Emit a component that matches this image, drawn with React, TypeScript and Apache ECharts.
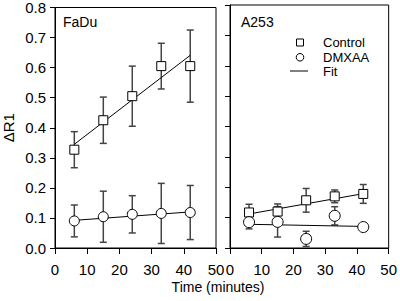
import React, { useEffect, useRef } from "react";
import * as echarts from "echarts";

const times = [6, 15, 24, 33, 42];
const fitX = [6, 42];

const faduControl = [0.327, 0.425, 0.505, 0.605, 0.605];
const faduControlErr = [0.06, 0.077, 0.1, 0.076, 0.12];
const faduDmxaa = [0.09, 0.104, 0.112, 0.115, 0.118];
const faduDmxaaErr = [0.053, 0.085, 0.062, 0.1, 0.09];
const faduControlFit = [0.345, 0.641];
const faduDmxaaFit = [0.092, 0.12];

const a253Control = [0.117, 0.12, 0.157, 0.17, 0.178];
const a253ControlErr = [0.027, 0.025, 0.039, 0.021, 0.031];
const a253Dmxaa = [0.085, 0.086, 0.03, 0.106, 0.069];
const a253DmxaaErr = [0.022, 0.05, 0.025, 0.03, 0.0];
const a253ControlFit = [0.112, 0.179];
const a253DmxaaFit = [0.078, 0.071];

const yTicks = [0, 0.1, 0.2, 0.3, 0.4, 0.5, 0.6, 0.7, 0.8];
const xTicks = [0, 10, 20, 30, 40, 50];
const panelNames = ["FaDu", "A253"];
const legendNames = ["Control", "DMXAA", "Fit"];
const xAxisTitle = "Time (minutes)";
const yAxisTitle = "ΔR1";

const FONT = "Liberation Sans, Arial, sans-serif";

function pts(xs: number[], ys: number[]) {
  return xs.map((x, i) => [x, ys[i]]);
}
function errPts(xs: number[], ys: number[], es: number[]) {
  return xs.map((x, i) => [x, ys[i], es[i]]);
}

function errorSeries(idx: number, data: number[][]) {
  return {
    type: "custom",
    xAxisIndex: idx,
    yAxisIndex: idx,
    z: 1,
    silent: true,
    data,
    renderItem: (params: any, api: any) => {
      const x = api.value(0);
      const y = api.value(1);
      const e = api.value(2);
      if (!e) return null;
      const top = api.coord([x, y + e]);
      const bot = api.coord([x, y - e]);
      const w = 3.5;
      const st = { stroke: "#444", lineWidth: 1.5 };
      return {
        type: "group",
        children: [
          { type: "line", shape: { x1: top[0], y1: top[1], x2: bot[0], y2: bot[1] }, style: st },
          { type: "line", shape: { x1: top[0] - w, y1: top[1], x2: top[0] + w, y2: top[1] }, style: st },
          { type: "line", shape: { x1: bot[0] - w, y1: bot[1], x2: bot[0] + w, y2: bot[1] }, style: st },
        ],
      };
    },
  };
}

function scatter(idx: number, name: string, symbol: string, size: number, data: number[][]) {
  return {
    type: "scatter",
    name,
    xAxisIndex: idx,
    yAxisIndex: idx,
    z: 3,
    symbol,
    symbolSize: size,
    itemStyle: { color: "#fff", borderColor: "#000", borderWidth: 1, opacity: 1 },
    data,
  };
}

function fit(idx: number, data: number[][]) {
  return {
    type: "line",
    name: "Fit",
    xAxisIndex: idx,
    yAxisIndex: idx,
    z: 2,
    symbol: "none",
    lineStyle: { color: "#000", width: 1 },
    data,
  };
}

export default function App() {
  const ref = useRef<HTMLDivElement>(null);
  useEffect(() => {
    if (!ref.current) return;
    const chart = echarts.init(ref.current, null, { renderer: "svg" });
    const axisLabelStyle = { color: "#000", fontSize: 15, fontFamily: FONT };
    const xAxisBase = (idx: number) => ({
      type: "value",
      gridIndex: idx,
      min: 0,
      max: 50,
      interval: 10,
      axisLine: { lineStyle: { color: "#000", width: 1 } },
      axisTick: { length: 6, lineStyle: { color: "#000" } },
      axisLabel: { ...axisLabelStyle, margin: 14, showMaxLabel: true, showMinLabel: true },
      splitLine: { show: false },
    });
    const yAxisBase = (idx: number, labels: boolean) => ({
      type: "value",
      gridIndex: idx,
      min: 0,
      max: 0.8,
      interval: 0.1,
      axisLine: { show: true, lineStyle: { color: "#000", width: 1 } },
      axisTick: { show: true, length: 5, lineStyle: { color: "#000" } },
      axisLabel: {
        show: labels,
        ...axisLabelStyle,
        margin: 9,
        formatter: (v: number) => v.toFixed(1),
      },
      splitLine: { show: false },
    });
    const option: any = {
      animation: false,
      grid: [
        { left: 53, right: 184, top: 5, bottom: 53, show: true, borderColor: "#000", borderWidth: 1, backgroundColor: "transparent" },
        { left: 230, right: 8, top: 5, bottom: 53, show: true, borderColor: "#000", borderWidth: 1, backgroundColor: "transparent" },
      ],
      xAxis: [xAxisBase(0), xAxisBase(1)],
      yAxis: [
        {
          ...yAxisBase(0, true),
          name: yAxisTitle,
          nameLocation: "middle",
          nameGap: 39,
          nameTextStyle: { color: "#000", fontSize: 15, fontFamily: FONT },
        },
        yAxisBase(1, false),
      ],
      series: [
        errorSeries(0, errPts(times, faduControl, faduControlErr)),
        errorSeries(0, errPts(times, faduDmxaa, faduDmxaaErr)),
        fit(0, pts(fitX, faduControlFit)),
        fit(0, pts(fitX, faduDmxaaFit)),
        scatter(0, "Control", "rect", 9, pts(times, faduControl)),
        scatter(0, "DMXAA", "circle", 10, pts(times, faduDmxaa)),
        errorSeries(1, errPts(times, a253Control, a253ControlErr)),
        errorSeries(1, errPts(times, a253Dmxaa, a253DmxaaErr)),
        fit(1, pts(fitX, a253ControlFit)),
        fit(1, pts(fitX, a253DmxaaFit)),
        scatter(1, "Control", "rect", 9, pts(times, a253Control)),
        scatter(1, "DMXAA", "circle", 11, pts(times, a253Dmxaa)),
      ],
      graphic: [
        { type: "text", x: 63, y: 22, style: { text: panelNames[0], fill: "#000", font: `14px ${FONT}`, verticalAlign: "middle" } },
        { type: "text", x: 241, y: 22, style: { text: panelNames[1], fill: "#000", font: `14px ${FONT}`, verticalAlign: "middle" } },
        { type: "rect", shape: { x: 296.5, y: 39, width: 7, height: 7 }, style: { fill: "#fff", stroke: "#000", lineWidth: 1 } },
        { type: "circle", shape: { cx: 300, cy: 57.3, r: 3.8 }, style: { fill: "#fff", stroke: "#000", lineWidth: 1 } },
        { type: "line", shape: { x1: 290, y1: 71, x2: 308, y2: 71 }, style: { stroke: "#000", lineWidth: 1 } },
        { type: "text", x: 323, y: 42.5, style: { text: legendNames[0], fill: "#000", font: `13px ${FONT}`, verticalAlign: "middle" } },
        { type: "text", x: 323, y: 57.5, style: { text: legendNames[1], fill: "#000", font: `13px ${FONT}`, verticalAlign: "middle" } },
        { type: "text", x: 323, y: 71.5, style: { text: legendNames[2], fill: "#000", font: `13px ${FONT}`, verticalAlign: "middle" } },
        { type: "text", x: 218, y: 287, style: { text: xAxisTitle, fill: "#000", font: `14px ${FONT}`, align: "center", verticalAlign: "middle" } },
      ],
    };
    chart.setOption(option);
    return () => chart.dispose();
  }, []);
  return (
    <div
      ref={ref}
      style={{ position: "fixed", left: 0, top: 0, width: 400, height: 301, background: "#fff" }}
    />
  );
}
